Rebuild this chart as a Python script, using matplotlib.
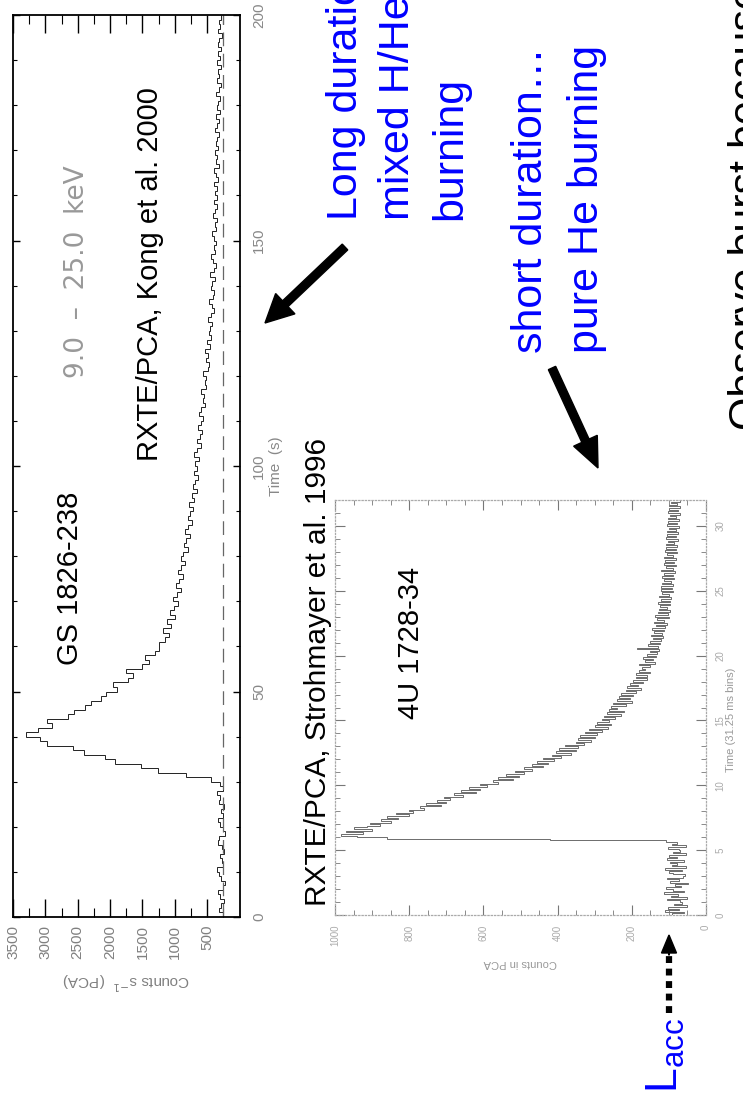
import numpy as np
import matplotlib.pyplot as plt
from matplotlib.patches import FancyArrow

# slide is shown rotated 90 deg: time runs upward, counts run leftward
plt.rcParams['font.family'] = ['Liberation Sans', 'DejaVu Sans']

W, H = 743, 1107

# GS 1826-238 light curve, 1 s bins (counts s^-1)
gs_edges = np.arange(0, 201, 1)
gs_counts = [
    255, 310, 285, 240, 300, 335, 260, 230, 280, 315,
    345, 250, 270, 305, 235, 275, 325, 310, 230, 260,
    300, 330, 250, 290, 240, 315, 295, 340, 260, 305,
    440, 820, 1260, 1520, 1930, 2080, 2400, 2580, 2980, 3080,
    3300, 3120, 2900, 2980, 2650, 2560, 2380, 2290, 2140, 2060,
    1900, 1960, 1720, 1640, 1750, 1500, 1400, 1460, 1310, 1240,
    1240, 1150, 1090, 1180, 1060, 1120, 990, 1070, 1010, 950,
    1020, 960, 900, 980, 930, 870, 950, 900, 840, 910,
    870, 800, 850, 820, 760, 840, 790, 730, 800, 760,
    720, 780, 700, 740, 660, 720, 690, 640, 710, 660,
    680, 620, 700, 650, 590, 660, 610, 575, 640, 600,
    560, 620, 590, 530, 570, 545, 600, 510, 540, 525,
    560, 490, 470, 515, 480, 530, 455, 500, 440, 475,
    460, 420, 485, 445, 400, 430, 470, 410, 395, 445,
    420, 385, 450, 400, 370, 415, 440, 375, 400, 360,
    395, 420, 360, 385, 345, 410, 375, 355, 400, 340,
    380, 350, 395, 335, 365, 390, 320, 360, 345, 385,
    330, 365, 350, 310, 375, 340, 320, 360, 305, 345,
    335, 300, 360, 320, 290, 345, 315, 330, 285, 340,
    305, 330, 280, 325, 310, 270, 335, 300, 315, 290,
]
gs_level = 250
gs_count_ticks = [500, 1000, 1500, 2000, 2500, 3000, 3500]
gs_time_ticks = [0, 50, 100, 150, 200]

# 4U 1728-34 light curve, 0.125 s bins (counts in PCA)
u4_edges = np.arange(0, 32.001, 0.125)
u4_counts = [
    92, 60, 111, 72, 102, 52, 85, 65,
    70, 105, 50, 94, 75, 113, 58, 89,
    108, 68, 84, 48, 98, 74, 106, 62,
    56, 88, 100, 66, 110, 54, 91, 77,
    96, 58, 104, 79, 99, 55, 88, 70,
    72, 103, 55, 92, 77, 108, 420, 860,
    940, 985, 925, 970, 900, 950, 915, 880,
    905, 850, 875, 830, 860, 800, 835, 790,
    800, 760, 770, 715, 755, 700, 725, 690,
    705, 655, 680, 620, 660, 610, 640, 590,
    610, 560, 575, 520, 560, 505, 540, 490,
    515, 470, 490, 440, 470, 425, 455, 410,
    440, 390, 415, 365, 405, 350, 395, 345,
    380, 330, 350, 310, 345, 300, 340, 295,
    325, 280, 315, 265, 300, 255, 295, 262,
    280, 245, 275, 230, 268, 222, 262, 240,
    255, 215, 250, 200, 240, 205, 235, 198,
    228, 190, 215, 175, 212, 182, 205, 170,
    198, 160, 190, 158, 188, 152, 180, 165,
    172, 150, 180, 138, 165, 142, 170, 135,
    158, 132, 150, 128, 185, 130, 155, 125,
    150, 120, 142, 115, 148, 118, 140, 112,
    145, 110, 134, 105, 140, 112, 132, 100,
    138, 102, 130, 98, 128, 104, 125, 96,
    130, 96, 122, 94, 126, 100, 118, 90,
    122, 92, 120, 88, 118, 95, 113, 86,
    118, 88, 112, 84, 120, 90, 108, 82,
    114, 86, 110, 80, 112, 88, 106, 79,
    110, 82, 108, 78, 107, 85, 102, 76,
    108, 80, 104, 75, 106, 82, 100, 74,
    104, 78, 102, 72, 103, 80, 98, 71,
    102, 75, 100, 70, 99, 78, 95, 69,
]
u4_count_ticks = [0, 200, 400, 600, 800, 1000]
u4_time_ticks = [0, 5, 10, 15, 20, 25, 30]

fig = plt.figure(figsize=(W / 100, H / 100), dpi=100, facecolor='white')


def px_axes(x0, y0, x1, y1, **kw):
    # axes placed with pixel edges measured from the top-left corner
    return fig.add_axes([x0 / W, 1 - y1 / H, (x1 - x0) / W, (y1 - y0) / H], **kw)


# ---- GS 1826-238 panel
ax1 = px_axes(13, 15, 239.5, 917)
ax1.stairs(gs_counts, gs_edges, orientation='horizontal', baseline=None,
           color='#222222', lw=0.7)
ax1.axvline(gs_level, color='#666666', lw=0.9, dashes=(11, 6))
ax1.set_xlim(3500, 0)
ax1.set_ylim(0, 200)
ax1.set_xticks(gs_count_ticks, [str(v) for v in gs_count_ticks], rotation=90)
ax1.set_xticks(np.arange(250, 3500, 500), minor=True)
ax1.set_yticks(gs_time_ticks, [str(v) for v in gs_time_ticks], rotation=90, va='center')
ax1.set_yticks(np.arange(0, 201, 10), minor=True)
ax1.tick_params(axis='x', which='both', direction='in', top=True, bottom=True,
                labelcolor='#808080', labelsize=11, pad=5.5)
ax1.tick_params(axis='x', which='major', length=13, width=1)
ax1.tick_params(axis='x', which='minor', length=6.5, width=0.8)
ax1.tick_params(axis='y', which='both', direction='in', left=True, right=True,
                labelleft=False, labelright=True, labelcolor='#888888',
                labelsize=11, pad=9)
ax1.tick_params(axis='y', which='major', length=5, width=1)
ax1.tick_params(axis='y', which='minor', length=3, width=0.8)
for sp in ax1.spines.values():
    sp.set_linewidth(1.3)
ax1.set_xlabel('Counts s$^{-1}$  (PCA)', rotation=180, fontsize=11, color='#808080')
ax1.xaxis.set_label_coords(0.5, -0.071)
ax1.xaxis.label.set_ha('center')
ax1.xaxis.label.set_va('center')
ax1.yaxis.set_label_position('right')
ax1.set_ylabel('Time  (s)', rotation=90, fontsize=11, color='#888888')
ax1.yaxis.set_label_coords(1.161, 0.5)
ax1.yaxis.label.set_ha('center')
ax1.yaxis.label.set_va('center')

# ---- 4U 1728-34 panel
ax2 = px_axes(335, 500, 706, 915)
ax2.stairs(u4_counts, u4_edges, orientation='horizontal', baseline=None,
           color='#333333', lw=0.5)
ax2.set_xlim(1000, 0)
ax2.set_ylim(0, 32)
ax2.set_xticks(u4_count_ticks, [str(v) for v in u4_count_ticks], rotation=90)
ax2.set_xticks(np.arange(0, 1001, 50), minor=True)
ax2.set_yticks(u4_time_ticks, [str(v) for v in u4_time_ticks], rotation=90, va='center')
ax2.set_yticks(np.arange(0, 32, 1), minor=True)
ax2.tick_params(axis='both', which='both', direction='in', top=True, bottom=True,
                left=True, right=True, labelleft=False, labelright=True,
                colors='#777777', labelcolor='#aaaaaa', labelsize=7, pad=7)
ax2.tick_params(axis='both', which='major', length=7, width=0.8)
ax2.tick_params(axis='both', which='minor', length=3.5, width=0.6)
for sp in ax2.spines.values():
    sp.set_color('#aaaaaa')
    sp.set_linestyle(':')
    sp.set_linewidth(0.9)
ax2.set_xlabel('Counts in PCA', rotation=180, fontsize=8, color='#999999')
ax2.xaxis.set_label_coords(0.5, -0.1157)
ax2.xaxis.label.set_ha('center')
ax2.xaxis.label.set_va('center')
ax2.yaxis.set_label_position('right')
ax2.set_ylabel('Time (31.25 ms bins)', rotation=90, fontsize=8, color='#999999')
ax2.yaxis.set_label_coords(1.067, 0.47)
ax2.yaxis.label.set_ha('center')
ax2.yaxis.label.set_va('center')

# ---- slide annotations, overlay in pixel coordinates
ov = px_axes(0, 0, W, H, zorder=5)
ov.set_xlim(0, W)
ov.set_ylim(H, 0)
ov.axis('off')

ov.text(70, 578, 'GS 1826-238', rotation=90, ha='center', va='center', fontsize=21)
ov.text(150, 274, 'RXTE/PCA, Kong et al. 2000', rotation=90, ha='center', va='center', fontsize=21)
ov.text(77, 272, '9.0  \u2013  25.0  keV', rotation=90, ha='center', va='center',
        fontsize=19, color='#999999', family='DejaVu Sans')
ov.text(318, 672, 'RXTE/PCA, Strohmayer et al. 1996', rotation=90, ha='center', va='center', fontsize=21.5)
ov.text(411, 643, '4U 1728-34', rotation=90, ha='center', va='center', fontsize=21)

blue = '#0000ff'
ov.text(346, 220, 'Long duration\u2026', rotation=90, ha='center', va='bottom', fontsize=31, color=blue)
ov.text(398, 220, 'mixed H/He', rotation=90, ha='center', va='bottom', fontsize=31, color=blue)
ov.text(450, 220, 'burning', rotation=90, ha='center', va='bottom', fontsize=31, color=blue)
ov.text(531, 353, 'short duration\u2026', rotation=90, ha='center', va='bottom', fontsize=31, color=blue)
ov.text(587, 353, 'pure He burning', rotation=90, ha='center', va='bottom', fontsize=31, color=blue)
ov.text(748, 430, 'Observe burst because', rotation=90, ha='center', va='bottom', fontsize=31)
ov.text(666, 1093, r'L$_{\mathregular{acc}}$', rotation=90, ha='center', va='bottom',
        fontsize=32, color=blue)

ov.add_patch(FancyArrow(345, 247, -80, 76, width=8, head_width=28, head_length=28,
                        length_includes_head=True, color='k'))
ov.add_patch(FancyArrow(552, 368, 46, 100, width=8, head_width=26, head_length=30,
                        length_includes_head=True, color='k'))
ov.plot([669, 669], [1013, 951], color='k', lw=4.5, dashes=(1.1, 0.9),
        dash_capstyle='butt', solid_capstyle='butt')
ov.add_patch(FancyArrow(669, 955, 0, -20, width=0.5, head_width=15, head_length=18,
                        length_includes_head=True, color='k'))

fig.savefig('out.png', dpi=100, facecolor='white')
